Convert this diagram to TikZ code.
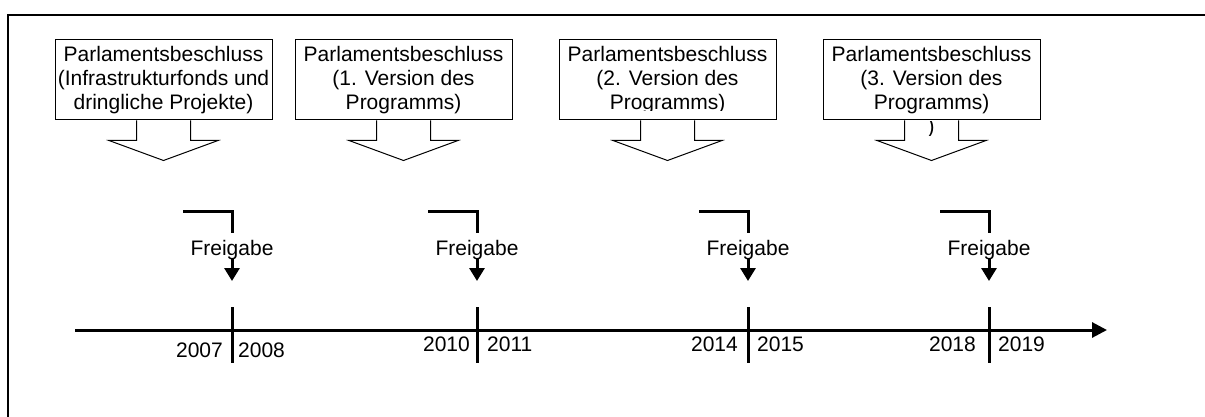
\documentclass[tikz,border=0pt]{standalone}
\usepackage{fontspec}
\setmainfont{Liberation Sans}
\usetikzlibrary{arrows.meta}
\begin{document}
\begin{tikzpicture}[x=1pt,y=-1pt,
  txt/.style={font=\fontsize{21}{24}\selectfont, inner sep=0pt},
  beschluss/.style={draw, line width=1pt, minimum width=217pt, minimum height=80pt,
    align=center, inner sep=0pt, font=\fontsize{21}{24}\selectfont},
  outline/.style={draw, line width=1pt, line join=miter},
  heavy/.style={line width=3pt},
  frame/.style={line width=2pt},
  smallhead/.style={-{Triangle[width=15pt,length=13pt]}},
  bighead/.style={-{Triangle[width=15pt,length=15pt]}}]
\useasboundingbox (0,0) rectangle (1205,417);
% frame (top and left only)
\coordinate (fr1) at (8,417);
\coordinate (fr2) at (8,15);
\coordinate (fr3) at (1205,15);
\draw[frame] (fr1) -- (fr2) -- (fr3);

% decision boxes
\node[beschluss] (b1) at (163.5,80) {Parlamentsbeschluss\\(Infrastrukturfonds und\\dringliche Projekte)};
\node[beschluss] (b2) at (403.5,80) {Parlamentsbeschluss\\(1. Version des\\Programms)};
\node[beschluss] (b3) at (667.5,80) {};
\begin{scope}
  \clip (559,41) rectangle (776,110.5);
  \node[beschluss,draw=none] (t3) at (667.5,80) {Parlamentsbeschluss\\(2. Version des\\Programms)};
\end{scope}
\node[beschluss] (b4) at (931.5,80) {Parlamentsbeschluss\\(3. Version des\\Programms)};
\begin{scope}
  \clip (908,122) rectangle (957,136);
  \node[txt,anchor=base] (t4) at (931,134) {)};
\end{scope}

\foreach \n in {b1,b2,b3,b4} {
  \draw[outline] ([xshift=-27pt]\n.south) -- ++(0,20) -- ++(-27.5,0)
     -- ++(54.5,20) -- ++(54.5,-20) -- ++(-27.5,0) -- ++(0,-20);
}

% Freigabe markers
\foreach \i/\x in {1/232,2/477,3/748,4/989} {
  \coordinate (h\i) at ({\x-49},211);
  \node[txt,anchor=base] (f\i) at (\x,255) {Freigabe};
  \coordinate (a\i) at (\x,281);
  \draw[heavy] (h\i) -| ([yshift=6.5pt]f\i.north);
  \draw[heavy,smallhead] ([yshift=-3pt]f\i.base) -- (a\i);
  \coordinate (kt\i) at (\x,307);
  \coordinate (kb\i) at (\x,363);
}

% timeline
\coordinate (ts) at (75,330);
\coordinate (te) at (1107,330);
\draw[heavy,bighead] (ts) -- (te);
\foreach \i in {1,2,3,4} { \draw[heavy] (kt\i) -- (kb\i); }

% years
\node[txt,anchor=base east] (y2007) at (223,357) {2007};
\node[txt,anchor=base west] (y2008) at (238,357) {2008};
\node[txt,anchor=base east] (y2010) at (470,351) {2010};
\node[txt,anchor=base west] (y2011) at (487,351) {2011};
\node[txt,anchor=base east] (y2014) at (738,351) {2014};
\node[txt,anchor=base west] (y2015) at (757,351) {2015};
\node[txt,anchor=base east] (y2018) at (976,351) {2018};
\node[txt,anchor=base west] (y2019) at (998,351) {2019};
\end{tikzpicture}
\end{document}
